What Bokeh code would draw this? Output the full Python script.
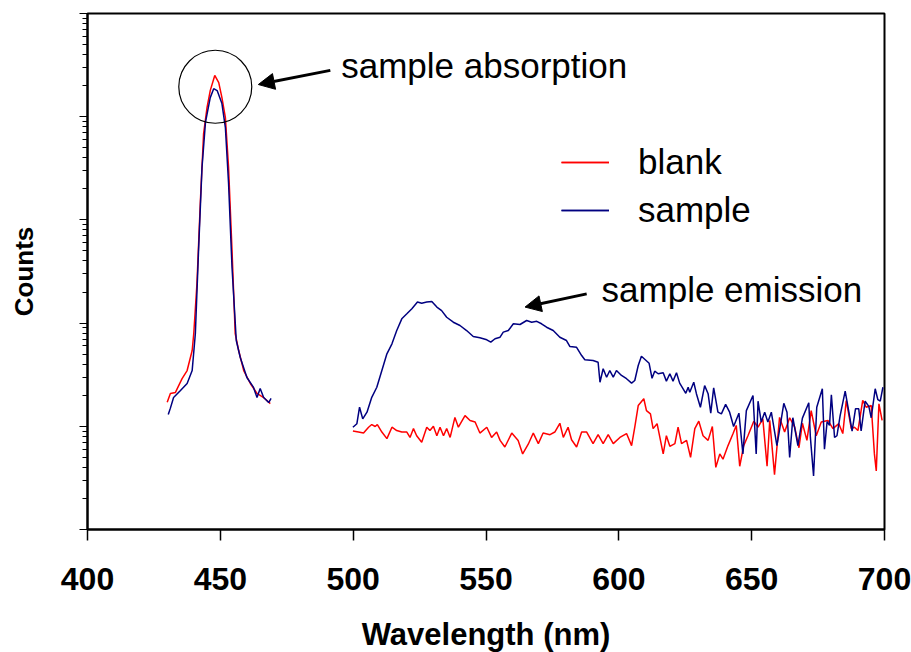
from bokeh.plotting import figure
from bokeh.models import Range1d, FixedTicker, Legend, LegendItem, Arrow, NormalHead, Label
from bokeh.embed import file_html
from bokeh.resources import INLINE

# ---------------- data (wavelength in nm, counts) ----------------
blank_abs_wl = [430.0, 431.2, 433.1, 435.6, 437.5, 439.4, 440.0, 441.2, 442.5, 443.7, 445.0, 446.2, 447.9,
                449.4, 450.6, 451.9, 453.1, 454.4, 455.6, 456.9, 458.8, 461.3, 463.8, 466.3, 468.8]
blank_abs = [171, 208, 213, 290, 347, 542, 793, 2420, 15400, 68700, 123000, 179000, 251000,
             214000, 153000, 98200, 32200, 5050, 793, 542, 347, 260, 208, 190, 166]

sample_abs_wl = [430.4, 431.2, 432.4, 435.0, 437.5, 439.4, 440.6, 441.8, 443.1, 444.4, 446.2, 447.5, 448.8,
                 450.6, 451.9, 453.1, 454.4, 456.0, 457.5, 460.0, 462.5, 463.8, 465.0, 466.3, 468.2, 469.1]
sample_abs = [130, 150, 190, 222, 260, 347, 793, 5050, 32200, 87900, 153000, 187000, 179000,
              134000, 78500, 22500, 3460, 678, 464, 297, 238, 190, 232, 190, 170, 186]

sample_em_wl = [499.9, 501.4, 502.4, 503.6, 505.2, 507.0, 508.9, 510.8, 512.7, 514.6,
                516.4, 518.3, 520.2, 522.1, 524.2, 525.8, 527.7, 529.6, 531.5, 533.3,
                535.2, 537.7, 540.2, 542.7, 545.2, 547.7, 550.3, 551.8, 553.4, 555.3,
                556.5, 558.4, 560.3, 562.8, 565.3, 567.2, 569.1, 570.9, 572.8, 575.3,
                577.8, 580.3, 581.6, 584.1, 586.0, 587.2, 590.3, 592.2, 592.9, 594.1,
                595.4, 596.6, 597.9, 599.1, 601.0, 602.9, 604.8, 606.0, 607.3, 608.5,
                611.4, 612.5, 613.5, 614.8, 616.7, 617.9, 619.2, 620.4, 621.7, 622.9,
                624.2, 625.2, 626.1, 626.7, 628.2, 629.2, 630.7, 632.3, 633.6, 634.6,
                635.7, 637.3, 638.6, 640.2, 641.7, 643.2, 645.2, 646.7, 648.0, 650.5,
                651.7, 652.4, 653.6, 654.9, 656.1, 657.4, 659.5, 660.3, 662.1, 663.3,
                664.3, 665.5, 667.4, 669.1, 671.5, 672.1, 673.3, 674.5, 676.6, 677.4,
                678.4, 679.3, 680.0, 681.2, 682.1, 683.3, 685.2, 686.6, 687.8, 689.1,
                690.3, 691.2, 692.7, 694.1, 695.0, 696.5, 697.5, 698.4, 699.4]
sample_em = [98, 106, 153, 118, 137, 191, 239, 347, 504, 630,
             847, 1100, 1230, 1380, 1600, 1560, 1600, 1620, 1430, 1320,
             1140, 1020, 948, 847, 741, 720, 689, 653, 705, 730,
             817, 847, 985, 969, 1060, 1020, 1040, 985, 912, 847,
             730, 678, 593, 583, 485, 441, 434, 418, 267, 361,
             299, 347, 299, 347, 311, 289, 262, 278, 388, 478,
             408, 292, 342, 323, 330, 274, 323, 274, 330, 262,
             231, 209, 239, 214, 267, 207, 153, 248, 207, 134,
             236, 137, 132, 163, 137, 99.5, 134, 54, 142, 199,
             54, 175, 110, 137, 110, 137, 65, 86, 167, 137,
             50, 121, 65, 120, 169, 78, 33, 153, 231, 60,
             111, 102, 202, 78, 81, 127, 219, 137, 90, 148,
             148, 90, 175, 156, 121, 231, 181, 175, 239]

blank_em_wl = [499.9, 502.0, 503.9, 505.8, 507.0, 508.3, 509.1, 510.8, 512.7, 514.6,
               516.4, 518.3, 520.2, 521.4, 522.7, 523.9, 525.8, 527.7, 528.9, 530.2,
               531.5, 532.7, 534.0, 535.2, 536.5, 538.3, 539.6, 542.1, 544.0, 545.9,
               547.7, 550.3, 552.1, 554.0, 555.3, 557.1, 559.7, 562.1, 563.8, 565.9,
               567.8, 569.7, 571.5, 574.1, 575.9, 577.8, 579.1, 580.9, 582.2, 584.1,
               586.0, 587.9, 590.3, 592.2, 594.1, 596.0, 597.9, 600.4, 602.9, 604.8,
               606.0, 607.3, 609.4, 610.4, 611.9, 612.9, 614.4, 616.7, 617.9, 619.2,
               621.1, 622.3, 623.6, 625.5, 627.0, 628.6, 630.1, 631.7, 633.6, 635.2,
               636.5, 638.0, 639.2, 641.1, 643.0, 644.2, 645.5, 647.0, 648.6, 650.8,
               652.4, 654.2, 655.8, 656.8, 658.6, 660.5, 662.4, 664.3, 666.2, 667.8,
               669.1, 670.8, 672.4, 674.3, 676.2, 678.7, 680.6, 682.8, 684.3, 685.6,
               687.5, 688.7, 690.0, 691.8, 693.1, 695.0, 696.2, 696.9, 697.9, 699.1]
blank_em = [90, 88, 86, 98, 104, 99.5, 104, 88, 76, 98,
            91, 88, 88, 78, 95, 81, 70, 98, 91, 100,
            81, 98, 81, 95, 78, 122, 98, 127, 114, 110,
            86, 98, 78, 88, 73, 63, 86, 73, 54, 67,
            86, 68, 86, 83, 88, 107, 78, 98, 74, 63,
            88, 88, 68, 83, 68, 83, 68, 78, 85, 65,
            98, 159, 185, 142, 132, 95, 106, 54, 81, 64,
            68, 98, 68, 73, 50, 95, 112, 81, 73, 99.5,
            40, 54, 48, 65, 85, 102, 41, 65, 81, 112,
            98, 118, 41, 114, 34, 122, 88, 121, 98, 62,
            107, 73, 142, 81, 110, 114, 95, 106, 85, 178,
            95, 98, 91, 178, 153, 159, 54, 37, 165, 114]

x_ticks = [400, 450, 500, 550, 600, 650, 700]
y_decades = [10, 100, 1000, 10000, 100000, 1000000]
y_minor = [m * d for d in y_decades[:-1] for m in range(2, 10)]

series_labels = ["blank", "sample"]
RED = "#ff0000"
BLUE = "#000080"
FONT = "Liberation Sans"

# annotation anchors (data coordinates)
abs_circle = (448.1, 195000)
abs_arrow = (491.4, 281000, 464.3, 205000)
abs_text = (495.5, 316000, "sample absorption")
em_arrow = (587.9, 1920, 564.7, 1430)
em_text = (593.5, 2120, "sample emission")

p = figure(frame_width=797, frame_height=516,
           x_range=Range1d(400, 700), y_range=Range1d(10, 1e6), y_axis_type="log",
           output_backend="svg", toolbar_location=None,
           min_border_left=87, min_border_right=27, min_border_top=13, min_border_bottom=123)
p.xgrid.visible = False
p.ygrid.visible = False
p.outline_line_color = "black"
p.outline_line_width = 2
p.outline_line_alpha = 1
p.background_fill_color = "white"
p.border_fill_color = "white"

r1 = p.line(blank_abs_wl, blank_abs, line_color=RED, line_width=1.5)
r2 = p.line(sample_abs_wl, sample_abs, line_color=BLUE, line_width=1.5)
r3 = p.line(blank_em_wl, blank_em, line_color=RED, line_width=1.5)
r4 = p.line(sample_em_wl, sample_em, line_color=BLUE, line_width=1.5)

# x axis
xa = p.xaxis[0]
xa.ticker = FixedTicker(ticks=x_ticks)
xa.axis_line_width = 2
xa.major_tick_out = 11
xa.major_tick_in = 0
xa.minor_tick_out = 0
xa.minor_tick_in = 0
xa.major_tick_line_width = 1.5
xa.major_label_text_font = FONT
xa.major_label_text_font_style = "bold"
xa.major_label_text_font_size = "32px"
xa.major_label_text_color = "black"
xa.major_label_standoff = 27
xa.axis_label = "Wavelength (nm)"
xa.axis_label_text_font = FONT
xa.axis_label_text_font_style = "bold"
xa.axis_label_text_font_size = "31px"
xa.axis_label_text_color = "black"
xa.axis_label_standoff = 24

# y axis (log, tick labels hidden)
ya = p.yaxis[0]
ya.ticker = FixedTicker(ticks=y_decades, minor_ticks=y_minor)
ya.axis_line_width = 2
ya.major_tick_out = 8
ya.major_tick_in = 0
ya.minor_tick_out = 5
ya.minor_tick_in = 0
ya.major_tick_line_width = 1.2
ya.minor_tick_line_width = 1.2
ya.major_label_text_font_size = "1px"
ya.major_label_text_alpha = 0
ya.major_label_standoff = 0
ya.axis_label = "Counts"
ya.axis_label_text_font = FONT
ya.axis_label_text_font_style = "bold"
ya.axis_label_text_font_size = "26px"
ya.axis_label_text_color = "black"
ya.axis_label_standoff = 41

# legend
legend = Legend(items=[LegendItem(label=series_labels[0], renderers=[r1, r3]),
                       LegendItem(label=series_labels[1], renderers=[r2, r4])],
                location=(474, 299), orientation="vertical",
                label_text_font=FONT, label_text_font_size="35px", label_text_color="black",
                glyph_width=48, glyph_height=40, label_height=40, label_standoff=29,
                spacing=8, padding=0, margin=0,
                border_line_alpha=0, background_fill_alpha=0)
p.add_layout(legend)

# annotations
p.scatter(x=[abs_circle[0]], y=[abs_circle[1]], marker="circle", size=73,
          fill_alpha=0, line_color="black", line_width=1.2)
p.add_layout(Arrow(end=NormalHead(size=16, fill_color="black", line_color="black"),
                   x_start=abs_arrow[0], y_start=abs_arrow[1], x_end=abs_arrow[2], y_end=abs_arrow[3],
                   line_color="black", line_width=3))
p.add_layout(Arrow(end=NormalHead(size=16, fill_color="black", line_color="black"),
                   x_start=em_arrow[0], y_start=em_arrow[1], x_end=em_arrow[2], y_end=em_arrow[3],
                   line_color="black", line_width=3))
p.add_layout(Label(x=abs_text[0], y=abs_text[1], text=abs_text[2], text_font=FONT,
                   text_font_size="35px", text_baseline="middle", text_color="black"))
p.add_layout(Label(x=em_text[0], y=em_text[1], text=em_text[2], text_font=FONT,
                   text_font_size="35px", text_baseline="middle", text_color="black"))

open("out.html", "w").write(file_html(p, INLINE))
